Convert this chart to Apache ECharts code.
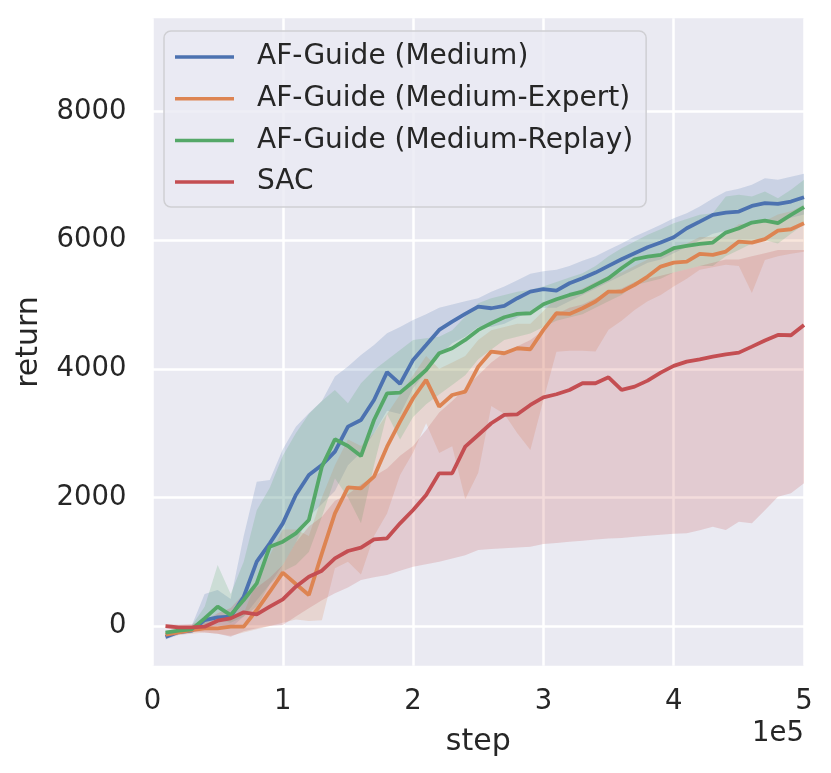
<!DOCTYPE html>
<html>
<head>
<meta charset="utf-8">
<title>return vs step</title>
<script src="https://cdn.jsdelivr.net/npm/echarts@6/dist/echarts.min.js"></script>
<style>
html, body { margin: 0; padding: 0; background: #ffffff; }
#main { width: 831px; height: 773px; }
</style>
</head>
<body>
<div id="main"></div>
<script>
// training steps (x)
var steps = [10000,20000,30000,40000,50000,60000,70000,80000,90000,100000,
	110000,120000,130000,140000,150000,160000,170000,180000,190000,200000,
	210000,220000,230000,240000,250000,260000,270000,280000,290000,300000,
	310000,320000,330000,340000,350000,360000,370000,380000,390000,400000,
	410000,420000,430000,440000,450000,460000,470000,480000,490000,500000];

var seriesNames = ["AF-Guide (Medium)", "AF-Guide (Medium-Expert)", "AF-Guide (Medium-Replay)", "SAC"];
var seriesColors = ["#4C72B0", "#DD8452", "#55A868", "#C44E52"];

// AF-Guide (Medium)
var blueMean = [-171,-93,-72,93,135,145,456,1001,1286,1597,
	2038,2350,2505,2713,3102,3205,3516,3950,3766,4139,
	4372,4606,4735,4855,4969,4943,4979,5099,5202,5239,
	5218,5332,5410,5498,5602,5705,5799,5892,5965,6048,
	6188,6291,6395,6431,6447,6535,6577,6566,6603,6670];
var blueLo = [-210,-140,-110,-30,0,-30,150,400,650,950,
	1300,1700,1900,2100,2500,2700,3000,3350,3300,3700,
	3950,4200,4400,4500,4650,4650,4700,4800,4900,4950,
	4950,5050,5150,5250,5350,5450,5550,5650,5700,5800,
	5900,6000,6100,6150,6150,6250,6300,6300,6350,6400];
var blueHi = [-130,-50,0,500,560,420,1400,2245,2270,2750,
	3100,3310,3500,3880,4035,4216,4372,4554,4650,4762,
	4850,4950,5000,5050,5099,5200,5280,5380,5480,5520,
	5540,5600,5680,5750,5851,5950,6058,6150,6240,6344,
	6420,6525,6650,6759,6800,6863,6966,6940,6990,7035];

// AF-Guide (Medium-Expert)
var orangeMean = [-135,-99,-62,-36,-36,-10,-10,249,534,830,
	654,482,1131,1753,2158,2142,2323,2790,3179,3543,
	3828,3413,3594,3646,4035,4269,4243,4321,4305,4606,
	4865,4855,4943,5047,5202,5202,5306,5436,5591,5653,
	5669,5788,5773,5825,5980,5965,6017,6151,6172,6266];
var orangeLo = [-170,-140,-120,-100,-120,-150,-100,-50,0,50,
	100,80,90,900,1000,800,1400,1750,2350,2700,
	3154,2692,2796,1971,2385,3423,3300,3000,2739,3517,
	4268,4280,4280,4270,4608,4750,4917,5050,5150,5280,
	5400,5540,5580,5620,5600,5180,5695,5750,5790,5820];
var orangeHi = [-100,-60,0,50,60,150,200,700,1100,1500,
	1500,1400,2000,2500,2900,2800,3000,3300,3600,3900,
	4200,4000,4100,4200,4450,4600,4650,4700,4700,4900,
	5100,5150,5250,5350,5450,5500,5600,5700,5800,5900,
	5950,6050,6050,6100,6250,6250,6300,6400,6450,6550];

// AF-Guide (Medium-Replay)
var greenMean = [-104,-73,-52,119,301,171,405,664,1234,1312,
	1442,1649,2479,2905,2801,2645,3205,3620,3630,3800,
	3983,4243,4321,4450,4606,4710,4803,4855,4865,5005,
	5083,5150,5202,5306,5410,5565,5705,5747,5773,5877,
	5913,5944,5965,6120,6188,6276,6307,6266,6395,6515];
var greenLo = [-140,-110,-90,-20,100,50,150,300,650,850,
	950,1150,1700,2300,2000,1600,2500,3300,2900,3250,
	3450,3600,3750,3900,4150,4300,4450,4500,4550,4650,
	4750,4800,4850,4950,5050,5150,5300,5350,5400,5500,
	5550,5600,5600,5750,5850,5950,6000,5950,6100,6250];
var greenHi = [-70,-40,0,300,950,500,1000,1800,2150,2650,
	3000,3300,3500,3673,3465,3776,3983,4139,4294,4450,
	4476,4500,4600,4814,5021,5099,5150,5200,5230,5280,
	5350,5420,5488,5600,5750,5877,5980,6085,6170,6266,
	6330,6396,6422,6681,6707,6681,6759,6655,6785,6940];

// SAC
var redMean = [0,-21,-21,-10,83,119,213,182,301,415,
	612,768,861,1053,1167,1219,1348,1364,1597,1805,
	2038,2376,2376,2790,2972,3154,3283,3293,3439,3558,
	3605,3672,3776,3776,3869,3672,3724,3817,3942,4046,
	4113,4149,4191,4227,4253,4346,4440,4528,4523,4684];
var redLo = [-30,-60,-80,-100,-120,-166,-80,-35,0,16,
	150,275,400,508,600,716,760,794,860,923,
	960,1000,1050,1100,1183,1200,1210,1220,1235,1276,
	1290,1310,1328,1345,1360,1370,1390,1405,1420,1435,
	1442,1490,1546,1494,1623,1597,1800,2012,2064,2220];
var redHi = [30,20,30,80,200,280,500,600,750,950,
	1300,1550,1700,1950,2050,2200,2330,2450,2650,2800,
	3050,3320,3500,3700,3900,4100,4250,4350,4450,4600,
	4850,4950,5000,5100,5200,5250,5350,5400,5450,5500,
	5550,5600,5650,5700,5700,5750,5800,5850,5850,5850];

var yTicks = [0, 2000, 4000, 6000, 8000];

var fontName = "DejaVu Sans";
var textColor = "#262626";

function lineSeries(name, mean, color) {
	return {
		name: name,
		type: 'line',
		data: steps.map(function (s, i) { return [s, mean[i]]; }),
		showSymbol: false,
		symbol: 'none',
		lineStyle: { color: color, width: 3.8 },
		itemStyle: { color: color },
		silent: true,
		clip: true
	};
}

// confidence band, drawn as one polygon through the axis scales
function bandSeries(lo, hi, color) {
	return {
		type: 'custom',
		silent: true,
		clip: true,
		data: steps.map(function (s, i) { return [s, lo[i], hi[i]]; }),
		encode: { x: 0, y: [1, 2] },
		renderItem: function (params, api) {
			if (params.dataIndex !== 0) return null;
			var pts = [];
			for (var i = 0; i < steps.length; i++) {
				pts.push(api.coord([steps[i], hi[i]]));
			}
			for (var j = steps.length - 1; j >= 0; j--) {
				pts.push(api.coord([steps[j], lo[j]]));
			}
			return {
				type: 'polygon',
				shape: { points: pts },
				style: { fill: color, opacity: 0.2 }
			};
		}
	};
}

var myChart = echarts.init(document.getElementById('main'), null, { renderer: 'canvas' });
var option = {
	animation: false,
	backgroundColor: '#ffffff',
	textStyle: { fontFamily: fontName, color: textColor },
	grid: {
		left: 152.5,
		right: 27,
		top: 18.3,
		bottom: 107.3,
		show: true,
		backgroundColor: '#EAEAF2',
		borderWidth: 0
	},
	legend: {
		data: seriesNames,
		orient: 'vertical',
		left: 164,
		top: 31,
		padding: [9, 13, 8, 11],
		itemGap: 7.7,
		itemWidth: 59,
		itemHeight: 3.5,
		icon: 'rect',
		backgroundColor: 'rgba(234,234,242,0.8)',
		borderColor: '#CFCFD3',
		borderWidth: 1.5,
		borderRadius: 7,
		selectedMode: false,
		textStyle: {
			fontFamily: fontName,
			fontSize: 28,
			color: textColor,
			lineHeight: 34,
			padding: [0, 0, 0, 18]
		}
	},
	xAxis: {
		type: 'value',
		min: 0,
		max: 500000,
		interval: 100000,
		name: 'step',
		nameLocation: 'middle',
		nameGap: 62,
		nameTextStyle: { fontFamily: fontName, fontSize: 30, color: textColor },
		axisLine: { show: false },
		axisTick: { show: false },
		axisLabel: {
			fontFamily: fontName,
			fontSize: 27.5,
			color: textColor,
			margin: 22,
			formatter: function (v) { return String(v / 100000); }
		},
		splitLine: { show: true, lineStyle: { color: '#ffffff', width: 2.5 } }
	},
	yAxis: {
		type: 'value',
		min: -617,
		max: 9453,
		splitNumber: 5,
		name: 'return',
		nameLocation: 'middle',
		nameGap: 108,
		nameTextStyle: { fontFamily: fontName, fontSize: 30, color: textColor },
		axisLine: { show: false },
		axisTick: { show: false },
		axisLabel: {
			fontFamily: fontName,
			fontSize: 27.5,
			color: textColor,
			margin: 26,
			showMinLabel: false,
			showMaxLabel: false,
			formatter: function (v) { return yTicks.indexOf(v) >= 0 ? String(v) : ''; }
		},
		splitLine: {
			show: true,
			showMinLine: false,
			showMaxLine: false,
			lineStyle: { color: '#ffffff', width: 2.5 }
		}
	},
	graphic: [{
		type: 'text',
		right: 27,
		top: 720,
		style: {
			text: '1e5',
			font: '27.5px "DejaVu Sans"',
			fill: textColor
		}
	}],
	series: [
		lineSeries(seriesNames[0], blueMean, seriesColors[0]),
		bandSeries(blueLo, blueHi, seriesColors[0]),
		lineSeries(seriesNames[1], orangeMean, seriesColors[1]),
		bandSeries(orangeLo, orangeHi, seriesColors[1]),
		lineSeries(seriesNames[2], greenMean, seriesColors[2]),
		bandSeries(greenLo, greenHi, seriesColors[2]),
		lineSeries(seriesNames[3], redMean, seriesColors[3]),
		bandSeries(redLo, redHi, seriesColors[3])
	]
};
myChart.setOption(option, true);
</script>
</body>
</html>
